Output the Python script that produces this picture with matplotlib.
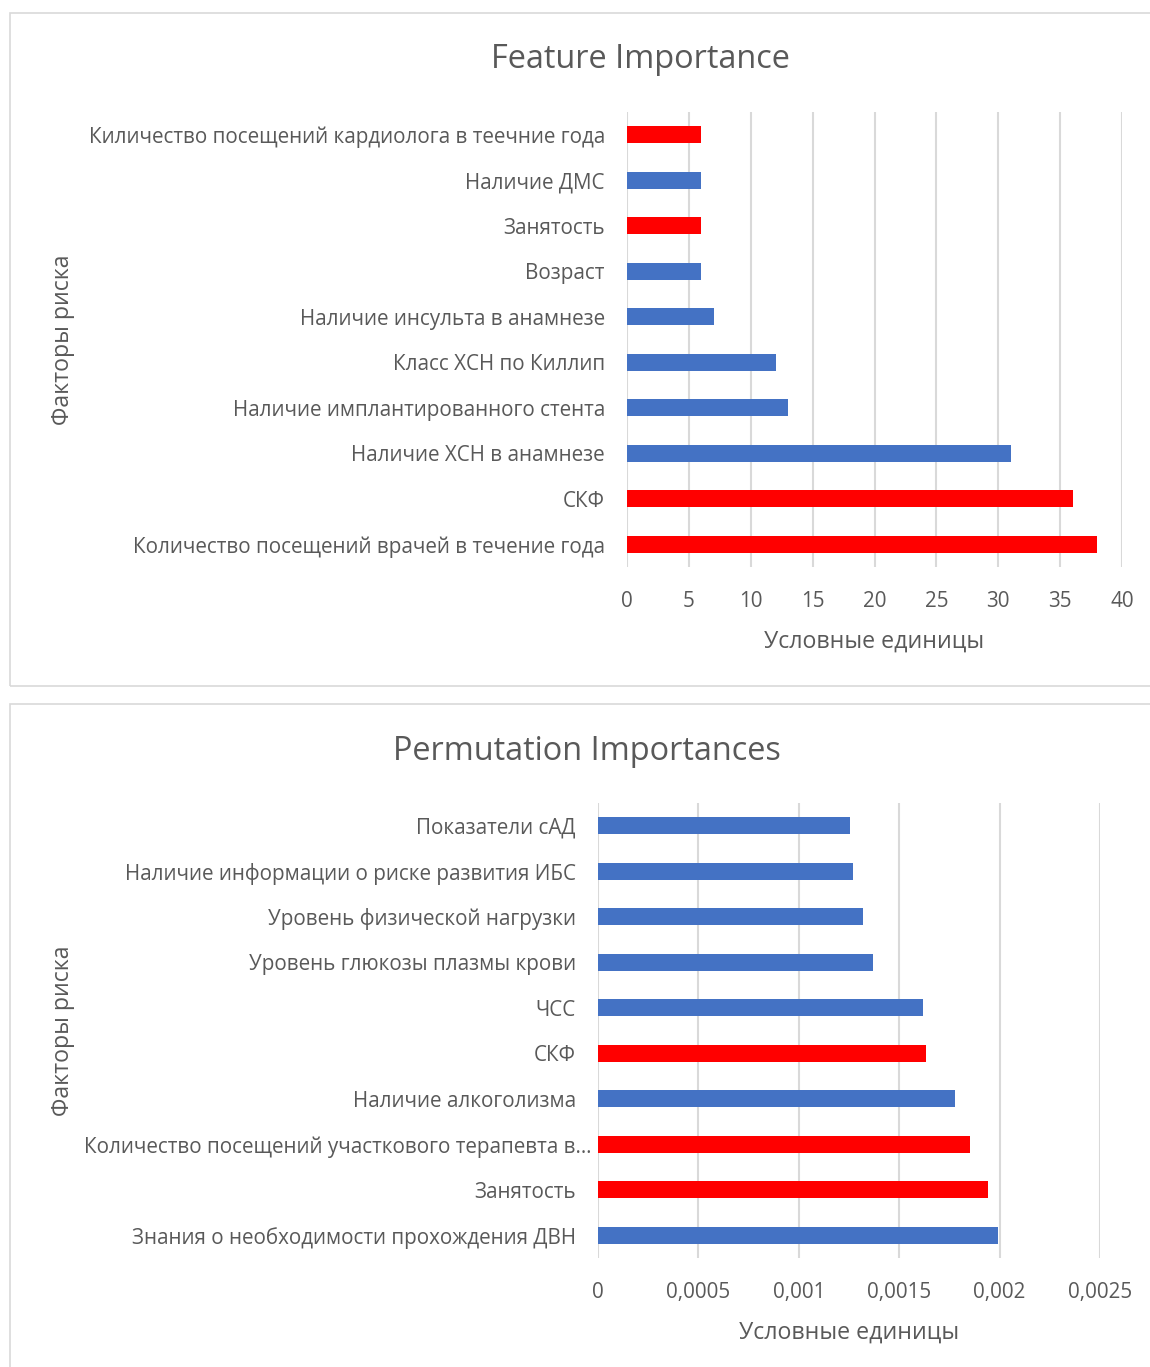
import matplotlib.pyplot as plt
from matplotlib.patches import Rectangle
from matplotlib.transforms import ScaledTranslation

plt.rcParams['font.family'] = ['Open Sans', 'DejaVu Sans']

W, H = 1150, 1367

# top chart, listed top to bottom as in the picture
fi_labels = [
    "Киличество посещений кардиолога в теечние года",
    "Наличие ДМС",
    "Занятость",
    "Возраст",
    "Наличие инсульта в анамнезе",
    "Класс ХСН по Киллип",
    "Наличие имплантированного стента",
    "Наличие ХСН в анамнезе",
    "СКФ",
    "Количество посещений врачей в течение года",
]
fi_values = [6, 6, 6, 6, 7, 12, 13, 31, 36, 38]
fi_red = [True, False, True, False, False, False, False, False, True, True]
fi_ticks = [0, 5, 10, 15, 20, 25, 30, 35, 40]

# bottom chart
pi_labels = [
    "Показатели сАД",
    "Наличие информации о риске развития ИБС",
    "Уровень физической нагрузки",
    "Уровень глюкозы плазмы крови",
    "ЧСС",
    "СКФ",
    "Наличие алкоголизма",
    "Количество посещений участкового терапевта в…",
    "Занятость",
    "Знания о необходимости прохождения ДВН",
]
pi_values = [0.001257, 0.00127, 0.00132, 0.001368, 0.00162, 0.001633,
             0.001778, 0.001851, 0.00194, 0.00199]
pi_red = [False, False, False, False, False, True, False, True, True, False]
pi_ticks = [0, 0.0005, 0.001, 0.0015, 0.002, 0.0025]
pi_ticklabels = ["0", "0,0005", "0,001", "0,0015", "0,002", "0,0025"]

BLUE = "#4472C4"
RED = "#FF0000"
TXT = "#595959"
GRID = "#D9D9D9"

fig = plt.figure(figsize=(W / 100, H / 100), dpi=100)


def px_axes(x0, x1, y0, y1):
    return fig.add_axes([x0 / W, 1 - y1 / H, (x1 - x0) / W, (y1 - y0) / H])


def panel(y0, y1):
    fig.patches.append(Rectangle((10 / W, 1 - y1 / H), 1.2, (y1 - y0) / H,
                                 transform=fig.transFigure, fill=False,
                                 edgecolor="#D9D9D9", linewidth=1.2))


def draw(ax, labels, values, red, ticks, ticklabels, xmax, x0, ylab_x):
    n = len(labels)
    pos = list(range(n))
    colors = [RED if r else BLUE for r in red]
    ax.barh(pos, values, height=0.37, color=colors, zorder=3)
    ax.set_ylim(n - 0.5, -0.5)
    ax.set_xlim(0, xmax)
    ax.set_yticks(pos, labels)
    ax.set_xticks(ticks, ticklabels)
    ax.tick_params(length=0, labelsize=14.9, labelcolor=TXT)
    ax.tick_params(axis="y", pad=16)
    ax.tick_params(axis="x", pad=17)
    ax.grid(axis="x", color=GRID, linewidth=1.5, zorder=0)
    for s in ax.spines.values():
        s.set_visible(False)
    ax.set_xlabel("Условные единицы", fontsize=16.7, color=TXT, labelpad=13)
    ax.set_ylabel("Факторы риска", fontsize=16.7, color=TXT)
    ax.yaxis.set_label_coords((ylab_x - x0) / (ax.get_position().width * W), 0.5)


panel(13, 686)
panel(704, 1400)

ax1 = px_axes(627, 1122, 112, 567)
draw(ax1, fi_labels, fi_values, fi_red, fi_ticks, [str(t) for t in fi_ticks],
     40, 627, 75)
fig.text(640 / W, 1 - 60 / H, "Feature Importance", fontsize=23.4, color=TXT,
         ha="center", va="center")

ax2 = px_axes(598, 1100, 803, 1258)
draw(ax2, pi_labels, pi_values, pi_red, pi_ticks, pi_ticklabels,
     0.0025, 598, 75)
fig.text(587 / W, 1 - 751 / H, "Permutation Importances", fontsize=23.4,
         color=TXT, ha="center", va="center")

# the truncated label sits closer to the bars in the original
lab = ax2.get_yticklabels()[7]
lab.set_transform(lab.get_transform() + ScaledTranslation(0.16, 0, fig.dpi_scale_trans))

fig.savefig("out.png", dpi=100)
